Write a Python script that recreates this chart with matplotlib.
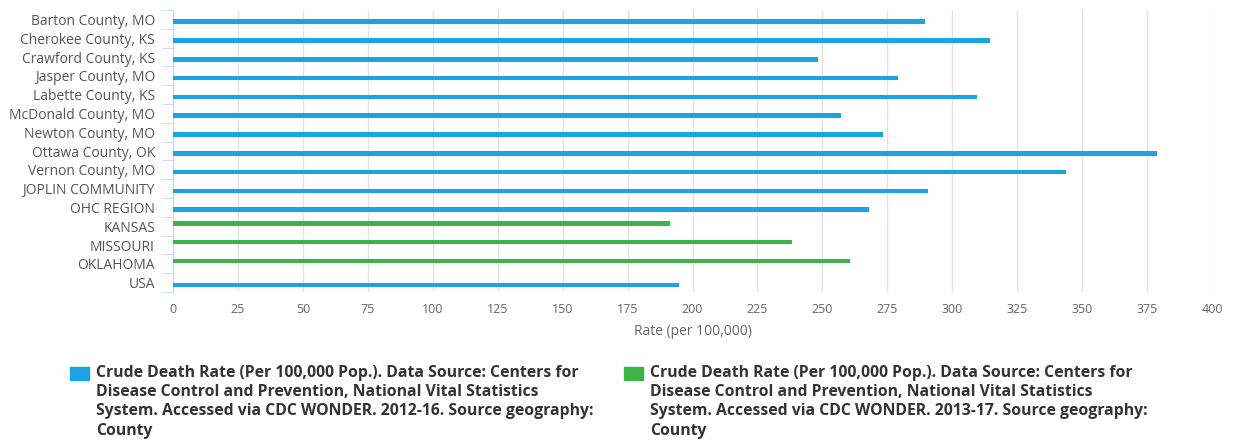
import numpy as np
import matplotlib.pyplot as plt
from matplotlib.patches import Rectangle

plt.rcParams['font.family'] = ['Open Sans', 'DejaVu Sans']

# categories top to bottom
categories = ['Barton County, MO', 'Cherokee County, KS', 'Crawford County, KS',
              'Jasper County, MO', 'Labette County, KS', 'McDonald County, MO',
              'Newton County, MO', 'Ottawa County, OK', 'Vernon County, MO',
              'JOPLIN COMMUNITY', 'OHC REGION', 'KANSAS', 'MISSOURI', 'OKLAHOMA', 'USA']

# 2012-16 series (blue), nan where there is no value
rate_2012_16 = [289.4, 314.5, 248.4, 279.1, 309.7, 257.0, 273.3, 379.0,
                343.9, 290.6, 268.1, np.nan, np.nan, np.nan, 194.7]
# 2013-17 series (green)
rate_2013_17 = [np.nan] * 11 + [191.4, 238.4, 260.7, np.nan]

label_2012 = ('Crude Death Rate (Per 100,000 Pop.). Data Source: Centers for\n'
              'Disease Control and Prevention, National Vital Statistics\n'
              'System. Accessed via CDC WONDER. 2012-16. Source geography:\n'
              'County')
label_2013 = label_2012.replace('2012-16', '2013-17')

blue = '#1ba3e3'
green = '#3bb54a'

W, H = 1234, 440
fig = plt.figure(figsize=(W / 100, H / 100), dpi=100)
ax = fig.add_axes([173 / W, 1 - 292 / H, (1212 - 173) / W, 282 / H])

y = np.arange(len(categories))
ax.barh(y + 0.12, rate_2012_16, height=0.24, color=blue, zorder=3)
ax.barh(y - 0.15, rate_2013_17, height=0.24, color=green, zorder=3)

ax.set_xlim(0, 400)
ax.set_ylim(len(categories) - 0.5, -0.5)
ax.set_xticks(np.arange(0, 401, 25))
ax.set_yticks(y)
ax.set_yticklabels(categories)
ax.set_yticks(np.arange(-0.5, len(categories), 1), minor=True)

ax.grid(axis='x', color='#e3e3e3', linewidth=1, zorder=0)
for s in ['top', 'right', 'bottom']:
    ax.spines[s].set_visible(False)
ax.spines['left'].set_color('#ccd6eb')

ax.tick_params(axis='y', which='major', length=0, pad=13, labelsize=10, labelcolor='#555555')
ax.tick_params(axis='y', which='minor', length=8, color='#ccd6eb')
ax.tick_params(axis='x', length=0, pad=8, labelsize=9, labelcolor='#666666')
ax.set_xlabel('Rate (per 100,000)', fontsize=10, color='#666666', labelpad=6)

# legend: square swatch next to wrapped text, one block per series
for x0, col, txt in [(70, blue, label_2012), (624, green, label_2013)]:
    fig.patches.append(Rectangle((x0 / W, 1 - 380 / H), 19 / W, 13 / H,
                                 transform=fig.transFigure, color=col))
    fig.text((x0 + 26) / W, 1 - 365 / H, txt, ha='left', va='top',
             fontsize=11.3, fontweight='bold', color='#333333', linespacing=1.27)

fig.savefig('out.png', dpi=100)
